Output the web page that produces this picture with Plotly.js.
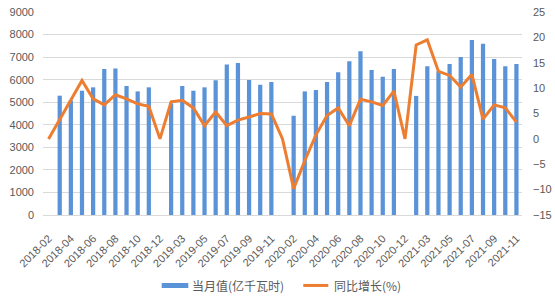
<!DOCTYPE html>
<html>
<head>
<meta charset="utf-8">
<script src="https://cdn.plot.ly/plotly-3.0.1.min.js"></script>
<style>html,body{margin:0;padding:0;background:#fff;}#chart{width:555px;height:301px;}</style>
</head>
<body>
<div id="chart"></div>
<script>
// Categories (months, January merged away)
var categories = ['2018-02','2018-03','2018-04','2018-05','2018-06','2018-07','2018-08','2018-09','2018-10','2018-11','2018-12',
  '2019-02','2019-03','2019-04','2019-05','2019-06','2019-07','2019-08','2019-09','2019-10','2019-11','2019-12',
  '2020-02','2020-03','2020-04','2020-05','2020-06','2020-07','2020-08','2020-09','2020-10','2020-11','2020-12',
  '2021-02','2021-03','2021-04','2021-05','2021-06','2021-07','2021-08','2021-09','2021-10','2021-11'];

// 当月值 (亿千瓦时)
var monthlyValue = [null,5290,5080,5510,5660,6470,6500,5720,5480,5660,null,
  4950,5720,5510,5660,5970,6670,6740,5980,5780,5900,null,
  4400,5480,5540,5900,6330,6820,7260,6430,6130,6470,null,
  5280,6590,6370,6700,7010,7760,7590,6920,6590,6700];

// 同比增长 (%)
var yoyGrowth = [0,3.9,7.7,11.5,7.9,6.7,8.7,7.9,6.9,6.4,0,
  7.3,7.6,6.1,2.6,5.3,2.6,3.7,4.3,5.0,4.9,0,
  -9.8,-4.3,0.8,4.6,6.1,2.6,7.8,7.3,6.6,9.4,0,
  18.5,19.5,13.3,12.5,10.2,12.7,3.9,6.7,6.1,3.3];

// Tick labels: every second category
var tickLabels = categories.filter(function(c, i){ return i % 2 === 0; });

var barName = '当月值(亿千瓦时)';
var lineName = '同比增长(%)';
var blue = '#5b93d8';
var orange = '#ed7d31';
var grey = '#595959';

var traces = [
  {
    type: 'bar', x: categories, y: monthlyValue, name: barName,
    marker: {color: blue}, hoverinfo: 'x+y'
  },
  {
    type: 'scatter', mode: 'lines', x: categories, y: yoyGrowth, name: lineName,
    yaxis: 'y2', line: {color: orange, width: 3}
  }
];

var tickFont = {family: 'Liberation Sans, Arial, sans-serif', size: 11, color: grey};
var legendFont = {family: 'Noto Sans CJK SC, sans-serif', size: 12, color: grey};
var legendY = -0.347;

var layout = {
  width: 555, height: 301,
  margin: {l: 43, r: 33, t: 12, b: 86, autoexpand: false},
  paper_bgcolor: '#ffffff', plot_bgcolor: '#ffffff',
  bargap: 0.62,
  showlegend: false,
  xaxis: {
    type: 'category', categoryorder: 'array', categoryarray: categories,
    tickmode: 'array', tickvals: tickLabels, ticktext: tickLabels,
    tickangle: -45, tickfont: tickFont, showgrid: false, showline: false, zeroline: false,
    ticks: '', range: [-0.5, categories.length - 0.5], fixedrange: true, ticklabelstandoff: 14,
    automargin: false
  },
  yaxis: {
    range: [0, 9000], dtick: 1000, tick0: 0, tickfont: tickFont,
    showgrid: true, gridcolor: '#d9d9d9', gridwidth: 1,
    zeroline: true, zerolinecolor: '#d9d9d9', zerolinewidth: 1,
    showline: false, ticks: '', ticklabelstandoff: 8
  },
  yaxis2: {
    overlaying: 'y', side: 'right', range: [-15, 25], dtick: 5, tick0: 0,
    tickfont: tickFont, showgrid: false, zeroline: false, showline: false,
    ticks: '', ticklabelstandoff: 10
  },
  shapes: [
    {type: 'rect', xref: 'paper', yref: 'paper', x0: 0.2478, x1: 0.3033, y0: -0.3596, y1: -0.335,
     fillcolor: blue, line: {width: 0}},
    {type: 'line', xref: 'paper', yref: 'paper', x0: 0.5434, x1: 0.5956, y0: legendY, y1: legendY,
     line: {color: orange, width: 3}}
  ],
  annotations: [
    {xref: 'paper', yref: 'paper', x: 0.3060, y: legendY, xanchor: 'left', yanchor: 'middle',
     text: barName, showarrow: false, font: legendFont},
    {xref: 'paper', yref: 'paper', x: 0.6025, y: legendY, xanchor: 'left', yanchor: 'middle',
     text: lineName, showarrow: false, font: legendFont}
  ]
};

Plotly.newPlot('chart', traces, layout, {displayModeBar: false, staticPlot: true});
</script>
</body>
</html>
